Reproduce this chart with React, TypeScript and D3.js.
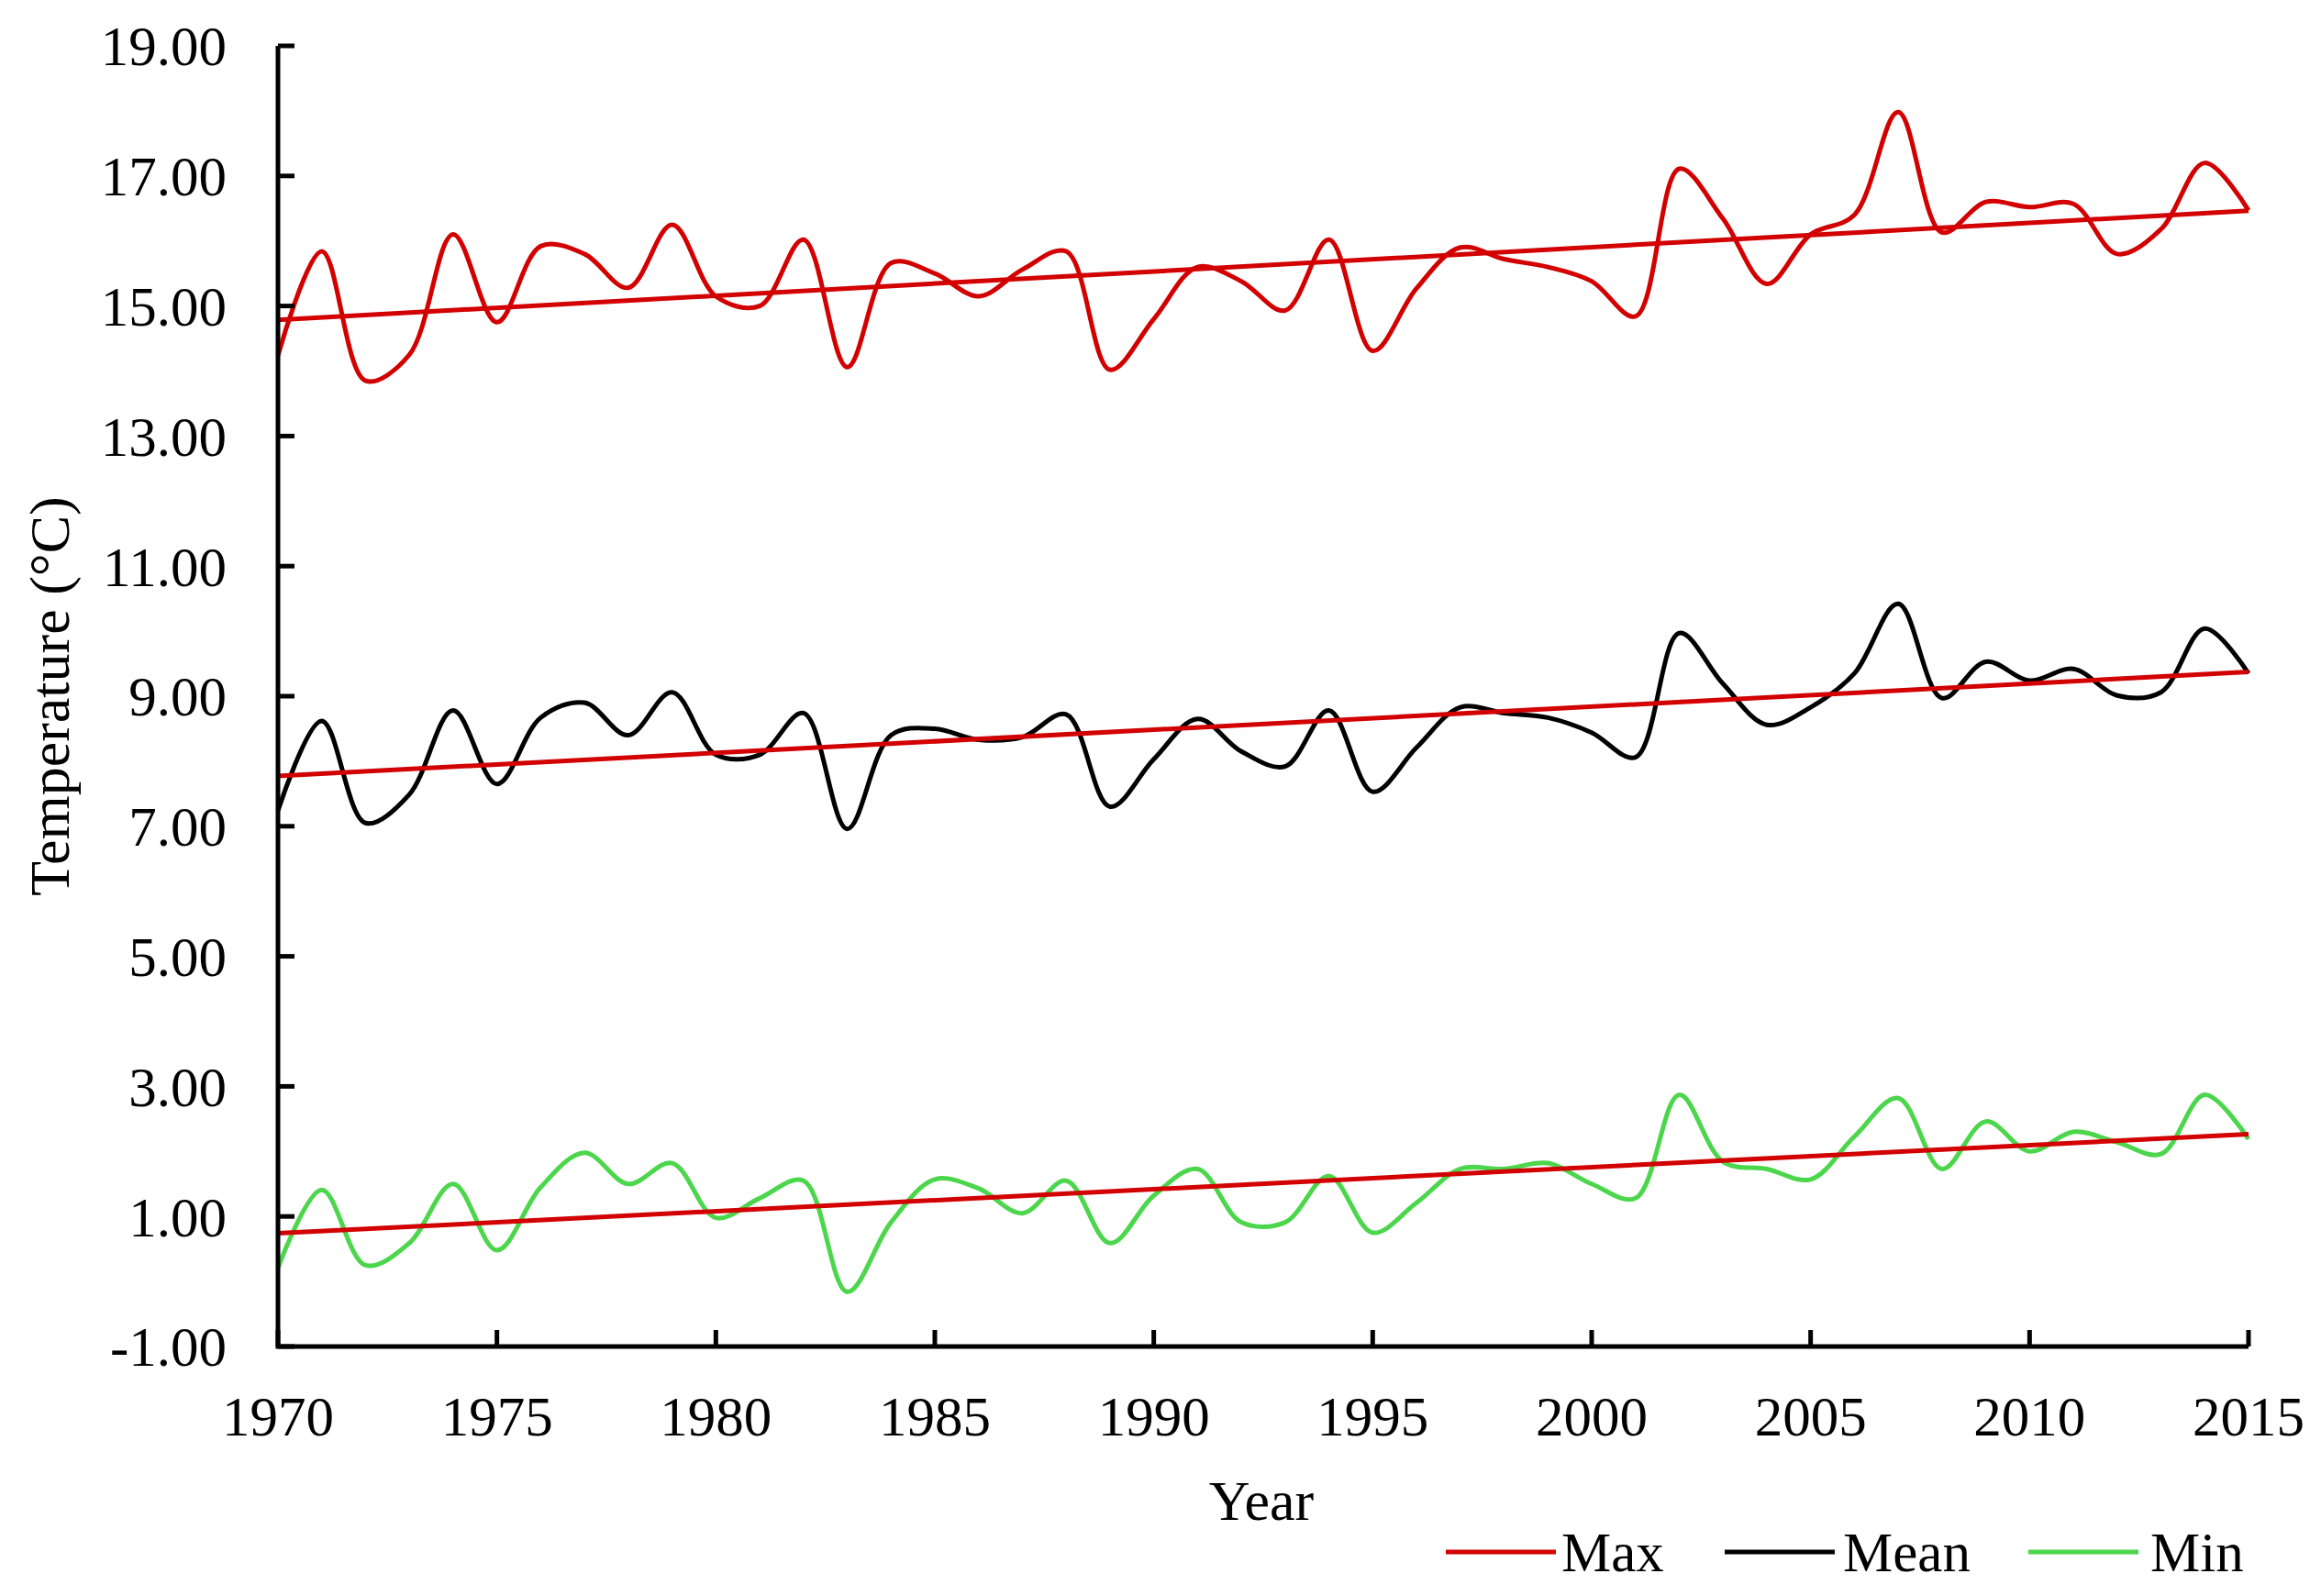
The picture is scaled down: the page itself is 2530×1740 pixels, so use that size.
import React from "react";
import * as d3 from "d3";

const years: number[] = d3.range(1970, 2016);

const maxTemp: number[] = [
  14.24, 15.84, 13.85, 14.25, 16.1, 14.75, 15.92, 15.8, 15.28, 16.25,
  15.15, 15.0, 16.02, 14.06, 15.66, 15.5, 15.15, 15.56, 15.84, 14.02,
  14.8, 15.6, 15.38, 14.93, 16.02, 14.31, 15.27, 15.9, 15.72, 15.6,
  15.38, 14.84, 17.11, 16.34, 15.34, 16.1, 16.4, 17.98, 16.13, 16.6,
  16.52, 16.57, 15.8, 16.18, 17.2, 16.47,
];

const meanTemp: number[] = [
  7.24, 8.62, 7.05, 7.49, 8.78, 7.65, 8.67, 8.9, 8.4, 9.06,
  8.1, 8.1, 8.74, 6.96, 8.4, 8.5, 8.33, 8.37, 8.72, 7.3,
  8.03, 8.65, 8.15, 7.92, 8.78, 7.53, 8.21, 8.83, 8.74, 8.67,
  8.44, 8.06, 9.97, 9.19, 8.56, 8.83, 9.35, 10.42, 8.97, 9.53,
  9.24, 9.42, 9.01, 9.06, 10.04, 9.35,
];

const minTemp: number[] = [
  0.21, 1.41, 0.25, 0.59, 1.5, 0.48, 1.45, 1.98, 1.5, 1.82,
  0.98, 1.28, 1.55, -0.16, 0.91, 1.57, 1.43, 1.05, 1.55, 0.59,
  1.32, 1.73, 0.91, 0.91, 1.62, 0.75, 1.21, 1.73, 1.73, 1.82,
  1.5, 1.28, 2.87, 1.84, 1.73, 1.57, 2.23, 2.82, 1.73, 2.46,
  2.0, 2.3, 2.14, 1.96, 2.87, 2.19,
];

const yTicks: number[] = [-1, 1, 3, 5, 7, 9, 11, 13, 15, 17, 19];
const xTicks: number[] = [1970, 1975, 1980, 1985, 1990, 1995, 2000, 2005, 2010, 2015];

const seriesNames: string[] = ["Max", "Mean", "Min"];
const seriesColors: string[] = ["#D20000", "#000000", "#4CD64C"];
const trendColor = "#D20000";

const W = 2530;
const H = 1740;
const FONT = "'Liberation Serif', 'Times New Roman', serif";

function linreg(xs: number[], ys: number[]): [number, number] {
  const n = xs.length;
  const mx = d3.mean(xs) as number;
  const my = d3.mean(ys) as number;
  let num = 0;
  let den = 0;
  for (let i = 0; i < n; i++) {
    num += (xs[i] - mx) * (ys[i] - my);
    den += (xs[i] - mx) * (xs[i] - mx);
  }
  const b = num / den;
  return [b, my - b * mx];
}

export default function App() {
  const left = 303;
  const right = 2451;
  const top = 50;
  const bottom = 1468;

  const x = d3.scaleLinear().domain([1970, 2015]).range([left, right]);
  const y = d3.scaleLinear().domain([-1, 19]).range([bottom, top]);

  const data = [maxTemp, meanTemp, minTemp];

  const line = d3
    .line<number>()
    .x((_, i) => x(years[i]))
    .y((d) => y(d))
    .curve(d3.curveCatmullRom.alpha(0.5));

  const legendItems = [
    { lx: 1576, tx: 1702 },
    { lx: 1880, tx: 2009 },
    { lx: 2211, tx: 2344 },
  ];

  return (
    <svg
      width={W}
      height={H}
      viewBox={`0 0 ${W} ${H}`}
      style={{ position: "absolute", left: 0, top: 0, background: "#fff" }}
      fontFamily={FONT}
    >
      <rect x={0} y={0} width={W} height={H} fill="#fff" />

      {/* data lines */}
      {data.map((s, k) => (
        <path
          key={"s" + k}
          d={line(s) || ""}
          fill="none"
          stroke={seriesColors[k]}
          strokeWidth={5}
          strokeLinejoin="round"
        />
      ))}

      {/* trend lines */}
      {data.map((s, k) => {
        const [b, a] = linreg(years, s);
        return (
          <line
            key={"t" + k}
            x1={x(1970)}
            y1={y(a + b * 1970)}
            x2={x(2015)}
            y2={y(a + b * 2015)}
            stroke={trendColor}
            strokeWidth={5}
          />
        );
      })}

      {/* axes */}
      <path
        d={`M${left},${top}V${bottom}H${right}`}
        fill="none"
        stroke="#000"
        strokeWidth={5}
      />
      {yTicks.map((t) => (
        <g key={"yt" + t}>
          <line x1={left} x2={left + 18} y1={y(t)} y2={y(t)} stroke="#000" strokeWidth={5} />
          <text
            x={247}
            y={y(t)}
            dy="0.35em"
            textAnchor="end"
            fontSize={61}
            fill="#000"
          >
            {t.toFixed(2)}
          </text>
        </g>
      ))}
      {xTicks.map((t) => (
        <g key={"xt" + t}>
          <line x1={x(t)} x2={x(t)} y1={bottom} y2={bottom - 18} stroke="#000" strokeWidth={5} />
          <text x={x(t)} y={1565} textAnchor="middle" fontSize={61} fill="#000">
            {t}
          </text>
        </g>
      ))}

      {/* axis titles */}
      <text
        transform={`translate(53,${(top + bottom) / 2}) rotate(-90)`}
        textAnchor="middle"
        dy="0.35em"
        fontSize={62}
        fill="#000"
      >
        Temperature (°C)
      </text>
      <text x={1375} y={1657} textAnchor="middle" fontSize={62} fill="#000">
        Year
      </text>

      {/* legend */}
      {seriesNames.map((n, k) => (
        <g key={"lg" + n}>
          <line
            x1={legendItems[k].lx}
            x2={legendItems[k].lx + 120}
            y1={1692}
            y2={1692}
            stroke={seriesColors[k]}
            strokeWidth={5}
          />
          <text x={legendItems[k].tx} y={1713} fontSize={61} fill="#000">
            {n}
          </text>
        </g>
      ))}
    </svg>
  );
}
